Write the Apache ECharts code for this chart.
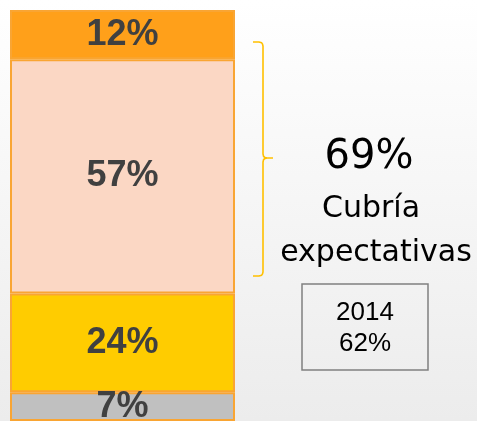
<!DOCTYPE html>
<html>
<head>
<meta charset="utf-8">
<script src="https://cdn.jsdelivr.net/npm/echarts@6/dist/echarts.min.js"></script>
<style>html,body{margin:0;padding:0;}#c{width:477px;height:421px;}</style>
</head>
<body>
<div id="c"></div>
<script>
// Data (bottom to top of the stacked bar)
const categories = ['2015'];
const segmentNames = ['Gris', 'Amarillo', 'Durazno', 'Naranja'];
const segmentValues = [7, 24, 57, 12];
const segmentColors = ['#C0C0C0', '#FFCC00', '#FBD7C4', '#FFA01A'];
const bigValueText = '69%';
const captionLines = ['Cubría', 'expectativas'];
const compareLines = ['2014', '62%'];

const chart = echarts.init(document.getElementById('c'), null, {renderer: 'canvas'});

const series = segmentValues.map((v, i) => ({
  name: segmentNames[i],
  type: 'bar',
  stack: 'total',
  barWidth: '100%',
  data: [v],
  itemStyle: { color: segmentColors[i], borderColor: '#F9A533', borderWidth: 2 },
  label: {
    show: true, position: 'inside',
    formatter: p => p.value + '%',
    fontFamily: 'Liberation Sans, Arial, sans-serif',
    fontWeight: 'bold', fontSize: 36, color: '#404040'
  }
}));

const fontMain = 'DejaVu Sans, sans-serif';
const bracketStyle = { fill: null, stroke: '#FFC000', lineWidth: 1.6 };

chart.setOption({
  animation: false,
  backgroundColor: {
    type: 'linear', x: 0, y: 0, x2: 0, y2: 1,
    colorStops: [{offset: 0, color: '#FFFFFF'}, {offset: 1, color: '#ECECEC'}]
  },
  grid: { left: 10, top: 10, width: 225, height: 413 },
  xAxis: { type: 'category', data: categories, show: false },
  yAxis: { type: 'value', min: 0, max: 100, show: false },
  series: series,
  graphic: [
    {
      type: 'polyline',
      shape: { points: [[253,42],[259,42],[261.5,42.6],[262.5,44],[263,46],[263,154],[263.6,156.5],[265,157.5],[267,158],[273,158]] },
      style: bracketStyle
    },
    {
      type: 'polyline',
      shape: { points: [[267,158],[265,158.5],[263.6,159.5],[263,162],[263,272],[262.5,274],[261.5,275.4],[259,276],[253,276]] },
      style: bracketStyle
    },
    {
      type: 'text', x: 369, y: 158,
      style: { text: bigValueText, fontFamily: fontMain, fontSize: 40, fill: '#000', align: 'center', verticalAlign: 'middle' }
    },
    {
      type: 'text', x: 371, y: 209,
      style: { text: captionLines[0], fontFamily: fontMain, fontSize: 30, fill: '#000', align: 'center', verticalAlign: 'middle' }
    },
    {
      type: 'text', x: 376, y: 253,
      style: { text: captionLines[1], fontFamily: fontMain, fontSize: 30, fill: '#000', align: 'center', verticalAlign: 'middle' }
    },
    {
      type: 'rect',
      shape: { x: 302, y: 284, width: 126, height: 86 },
      style: { fill: 'rgba(0,0,0,0)', stroke: '#808080', lineWidth: 1.5 }
    },
    {
      type: 'text', x: 365, y: 313,
      style: { text: compareLines[0], fontFamily: 'Liberation Sans, Arial, sans-serif', fontSize: 26, fill: '#000', align: 'center', verticalAlign: 'middle' }
    },
    {
      type: 'text', x: 365, y: 344,
      style: { text: compareLines[1], fontFamily: 'Liberation Sans, Arial, sans-serif', fontSize: 26, fill: '#000', align: 'center', verticalAlign: 'middle' }
    }
  ]
});
</script>
</body>
</html>
